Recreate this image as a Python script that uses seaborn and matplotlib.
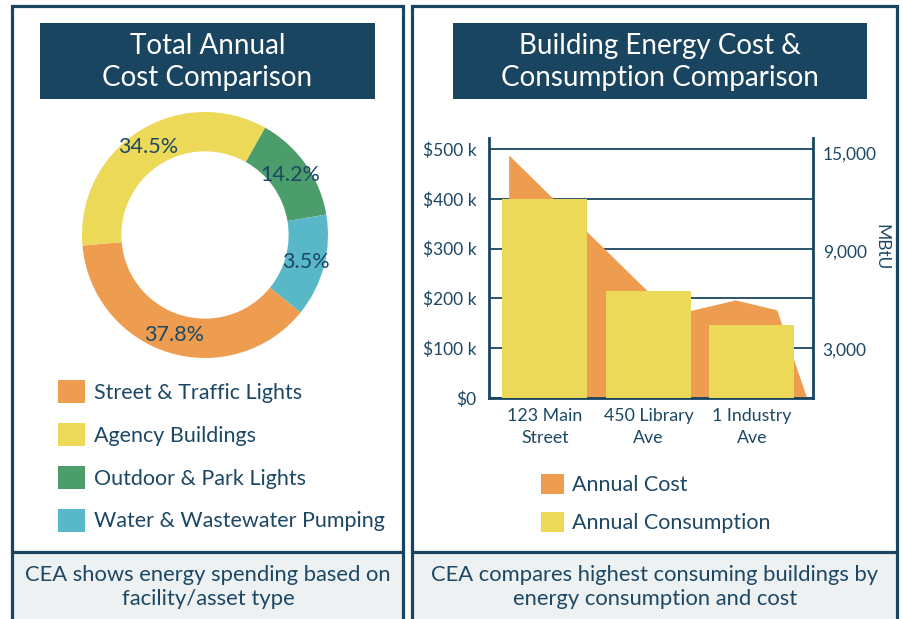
import numpy as np
import pandas as pd
import seaborn as sns
import matplotlib.pyplot as plt
from matplotlib.patches import Rectangle, Patch

# donut data
segments = ['Street & Traffic Lights', 'Agency Buildings', 'Outdoor & Park Lights', 'Water & Wastewater Pumping']
shares = [37.8, 34.5, 14.2, 13.5]
share_labels = ['37.8%', '34.5%', '14.2%', '3.5%']

# building data
buildings = ['123 Main\nStreet', '450 Library\nAve', '1 Industry\nAve']
consumption_mbtu = [12200, 6550, 4450]
# annual cost outline (position along the building axis, cost in $k)
cost_pos = [-0.35, 0.97, 1.25, 1.84, 2.24, 2.53]
cost_k = [488, 219, 168, 197, 177, 0]

cost_ticks = [0, 100, 200, 300, 400, 500]
cost_tick_labels = ['$0', '$100 k', '$200 k', '$300 k', '$400 k', '$500 k']
mbtu_ticks = [3000, 9000, 15000]
mbtu_tick_labels = ['3,000', '9,000', '15,000']

navy = '#1a4561'
text_col = '#1c4865'
orange = '#ee9c50'
yellow = '#ecd958'
green = '#4b9d6b'
blue = '#59b8c7'
cap_bg = '#eef1f2'
seg_colors = [orange, yellow, green, blue]

sns.set_style('white')
plt.rcParams['font.family'] = ['Lato', 'DejaVu Sans']

W, H = 904, 619
fig = plt.figure(figsize=(W / 100, H / 100), dpi=100)
fig.patch.set_facecolor('white')


def fx(x):
    return x / W


def fy(y):
    return 1 - y / H


# panel frames and caption backgrounds
for x0, x1 in [(11.5, 403.5), (412.5, 896.5)]:
    fig.add_artist(Rectangle((fx(x0), fy(640)), fx(x1) - fx(x0), fy(552) - fy(640),
                             transform=fig.transFigure, facecolor=cap_bg, edgecolor='none', zorder=0))
    fig.add_artist(Rectangle((fx(x0), fy(660)), fx(x1) - fx(x0), fy(5.5) - fy(660),
                             transform=fig.transFigure, facecolor='none', edgecolor=navy, lw=2.3, zorder=5))
    fig.add_artist(plt.Line2D([fx(x0), fx(x1)], [fy(552), fy(552)], transform=fig.transFigure,
                              color=navy, lw=2.3, zorder=5))

# title boxes
for (x0, x1), lines in [((40, 375), 'Total Annual\nCost Comparison'),
                        ((453, 867), 'Building Energy Cost &\nConsumption Comparison')]:
    fig.add_artist(Rectangle((fx(x0), fy(99)), fx(x1) - fx(x0), fy(23) - fy(99),
                             transform=fig.transFigure, facecolor=navy, edgecolor='none'))
    fig.text(fx((x0 + x1) / 2), fy(62), lines, color='white', fontsize=20, ha='center', va='center',
             linespacing=1.3)

# captions
fig.text(fx(208), fy(587), 'CEA shows energy spending based on\nfacility/asset type', color=text_col,
         fontsize=15.8, ha='center', va='center', linespacing=1.3)
fig.text(fx(655), fy(587), 'CEA compares highest consuming buildings by\nenergy consumption and cost',
         color=text_col, fontsize=15.8, ha='center', va='center', linespacing=1.3)

# donut
ax_pie = fig.add_axes([fx(82), fy(358), fx(246), 246 / H])
wedges, texts, autotexts = ax_pie.pie(shares, colors=seg_colors, startangle=-39, counterclock=False,
                                      wedgeprops=dict(width=0.32, linewidth=0),
                                      autopct='%1.1f%%', pctdistance=0.85)
for t, lab in zip(autotexts, share_labels):
    t.set_text(lab)
    t.set_color(text_col)
    t.set_fontsize(15.5)
ax_pie.set_xlim(-1, 1)
ax_pie.set_ylim(-1, 1)
ax_pie.set_aspect('equal')

handles = [Patch(facecolor=c, edgecolor='none') for c in seg_colors]
fig.legend(handles, segments, loc='upper left', bbox_to_anchor=(fx(58), fy(380)), frameon=False,
           fontsize=15.5, handlelength=1.26, handleheight=1.26, handletextpad=0.42, labelspacing=0.93,
           borderpad=0, borderaxespad=0, labelcolor=text_col)

# building chart
ax = fig.add_axes([fx(489), fy(398), fx(813) - fx(489), 260 / H])
ax2 = ax.twinx()

ax.fill_between(cost_pos, [v * 1000 for v in cost_k], 0, color=orange, lw=0, zorder=2)
df = pd.DataFrame({'building': buildings, 'mbtu': consumption_mbtu})
sns.barplot(data=df, x='building', y='mbtu', ax=ax2, color=yellow, saturation=1, width=0.82,
            edgecolor='none', linewidth=0)

ax.set_xlim(-0.54, 2.59)
ax.set_ylim(0, 522000)
ax2.set_ylim(0, 15900)

ax.set_yticks([v * 1000 for v in cost_ticks])
ax.set_yticklabels(cost_tick_labels)
ax2.set_yticks(mbtu_ticks)
ax2.set_yticklabels(mbtu_tick_labels)
ax.set_xticks(range(len(buildings)))
ax.set_xticklabels(buildings, linespacing=1.5)

ax.yaxis.grid(True, color=navy, lw=1.3)
ax.xaxis.grid(False)
ax2.grid(False)
ax.set_axisbelow(True)

ax.tick_params(axis='y', length=0, pad=9, labelsize=12.5, labelcolor=text_col)
ax.tick_params(axis='x', length=0, pad=7, labelsize=12.8, labelcolor=text_col)
ax2.tick_params(axis='y', length=0, pad=7, labelsize=12.5, labelcolor=text_col)
ax.set_xlabel('')
ax2.set_xlabel('')
ax.set_ylabel('')
ax2.set_ylabel('MBtU', rotation=270, color=text_col, fontsize=12.5)
ax2.yaxis.set_label_coords(1.235, 0.58)

for a in (ax, ax2):
    for s in a.spines.values():
        s.set_visible(False)
ax.spines['left'].set_visible(True)
ax.spines['bottom'].set_visible(True)
ax2.spines['right'].set_visible(True)
for s in (ax.spines['left'], ax.spines['bottom'], ax2.spines['right']):
    s.set_color(navy)
    s.set_linewidth(2)
ax.patch.set_alpha(0)

fig.legend([Patch(facecolor=orange, edgecolor='none'), Patch(facecolor=yellow, edgecolor='none')],
           ['Annual Cost', 'Annual Consumption'], loc='upper left', bbox_to_anchor=(fx(541), fy(474)),
           frameon=False, fontsize=15.5, handlelength=1.05, handleheight=1.05, handletextpad=0.4,
           labelspacing=0.78, borderpad=0, borderaxespad=0, labelcolor=text_col)

fig.savefig('out.png', dpi=100)
